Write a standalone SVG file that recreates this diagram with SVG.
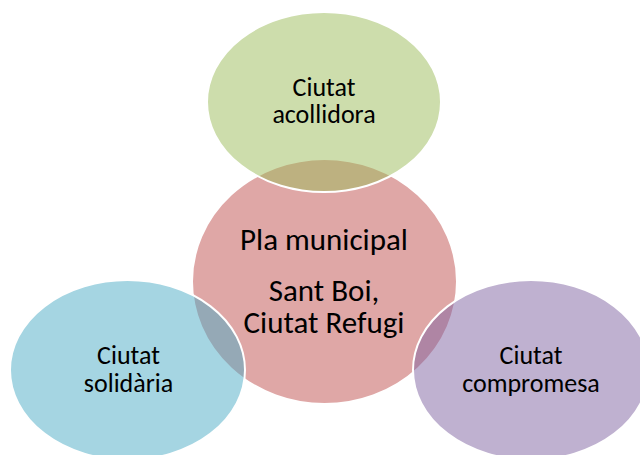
<svg xmlns="http://www.w3.org/2000/svg" width="640" height="455" viewBox="0 0 640 455">
  <style>
    .node { fill-opacity: 0.5; stroke: #ffffff; stroke-width: 2; }
    .lbl { font-family: Carlito, Calibri, Lato, "Open Sans", sans-serif; fill: #000000; text-anchor: middle; }
    .outer { font-size: 26px; }
    .center { font-size: 31px; }
  </style>
  <rect width="640" height="455" fill="#ffffff"/>
  <g id="node-center">
    <ellipse class="node" cx="324.5" cy="281.5" rx="132.5" ry="122.5" fill="#C0504D"/>
    <text class="lbl center" x="324" y="250">Pla municipal</text>
    <text class="lbl center" x="324" y="301">Sant Boi,</text>
    <text class="lbl center" x="324" y="333">Ciutat Refugi</text>
  </g>
  <g id="node-acollidora">
    <ellipse class="node" cx="324" cy="102" rx="117" ry="90" fill="#9BBB59"/>
    <text class="lbl outer" x="324" y="96">Ciutat</text>
    <text class="lbl outer" x="324" y="123">acollidora</text>
  </g>
  <g id="node-solidaria">
    <ellipse class="node" cx="127.5" cy="370" rx="117.5" ry="90" fill="#4BACC6"/>
    <text class="lbl outer" x="128.5" y="364">Ciutat</text>
    <text class="lbl outer" x="128.5" y="392">solidària</text>
  </g>
  <g id="node-compromesa">
    <ellipse class="node" cx="531" cy="370" rx="118" ry="90" fill="#8064A2"/>
    <text class="lbl outer" x="531" y="364">Ciutat</text>
    <text class="lbl outer" x="531" y="392">compromesa</text>
  </g>
</svg>
